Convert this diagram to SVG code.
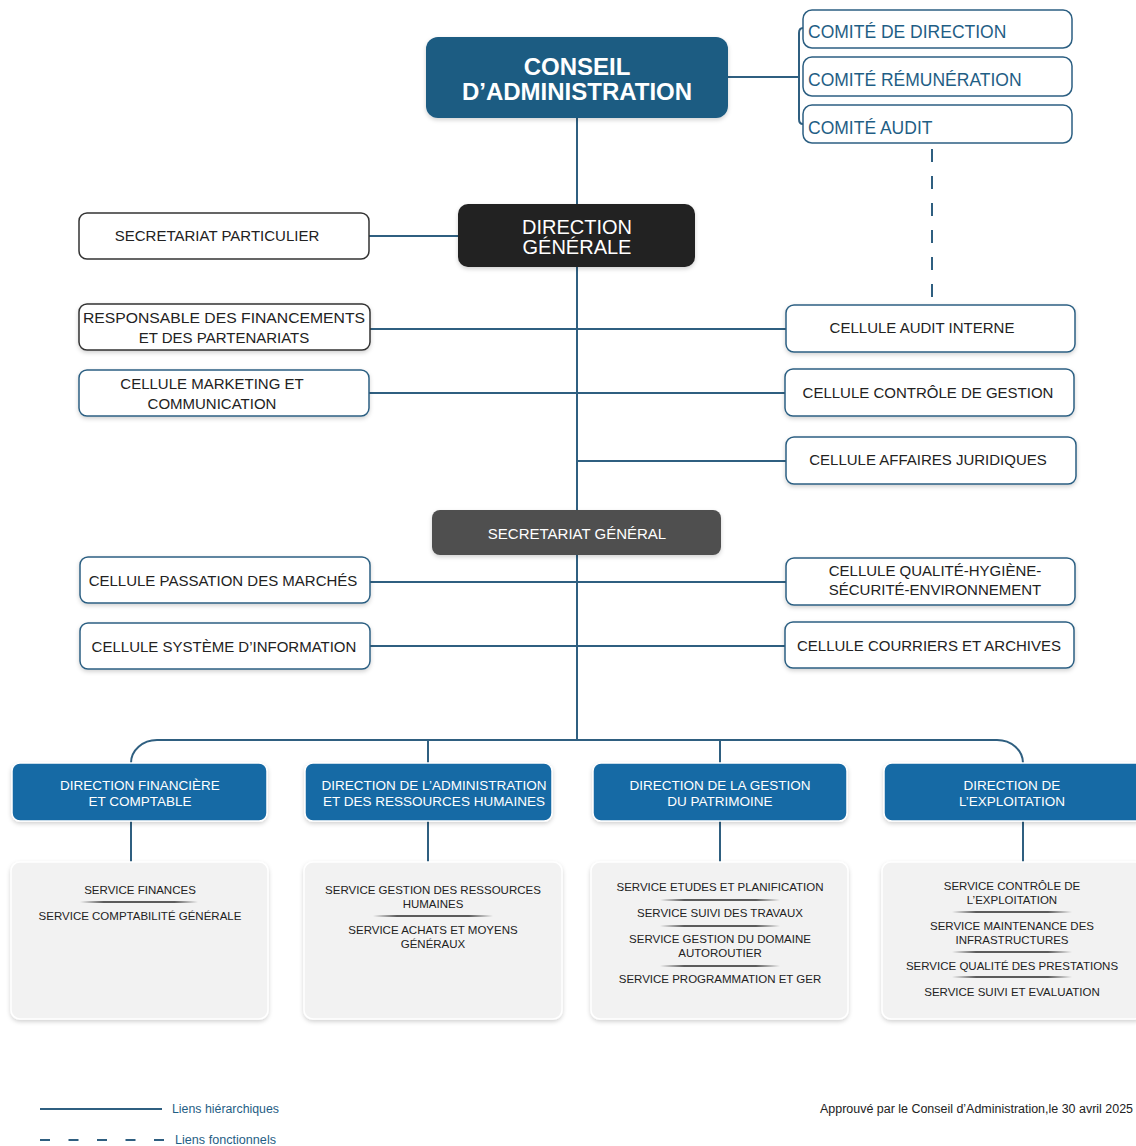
<svg xmlns="http://www.w3.org/2000/svg" width="1136" height="1146" viewBox="0 0 1136 1146">
<defs>
<filter id="sh" x="-10%" y="-20%" width="120%" height="150%">
<feDropShadow dx="0" dy="2" stdDeviation="2" flood-color="#000" flood-opacity="0.18"/>
</filter>
<linearGradient id="sep" x1="0" x2="1" y1="0" y2="0">
<stop offset="0" stop-color="#222" stop-opacity="0"/>
<stop offset="0.2" stop-color="#222" stop-opacity="0.9"/>
<stop offset="0.8" stop-color="#222" stop-opacity="0.9"/>
<stop offset="1" stop-color="#222" stop-opacity="0"/>
</linearGradient>
<style>
.t{font-family:"Liberation Sans",Arial,sans-serif;text-anchor:middle;fill:#222}
.w{fill:#fff}
.cm{font-family:"Liberation Sans",Arial,sans-serif;font-size:17.5px;fill:#1f5e85}
.box{fill:#fff;stroke:#2c5f82;stroke-width:1.5}
.boxd{fill:#fff;stroke:#333;stroke-width:1.5}
.dir{fill:#176aa5;stroke:#fff;stroke-width:1.5}
.svc{fill:#f2f2f2;stroke:#fff;stroke-width:1.5}
.c15{font-size:15px}
.c13{font-size:13.5px}
.c11{font-size:11.5px}
.ln{fill:none;stroke:#2f5f80;stroke-width:2}
.ds{fill:none;stroke:#2f5f80;stroke-width:2;stroke-dasharray:13 14}
.sp{fill:url(#sep)}
.lg{font-family:"Liberation Sans",Arial,sans-serif;font-size:12.3px}
</style>
</defs>
<rect width="1136" height="1146" fill="#fff"/>

<g id="connectors">
<path class="ln" d="M577 118V204M577 267V510M577 555V740"/>
<path class="ln" d="M728 77H799M803 28Q799 28 799 33V119Q799 124 803 124"/>
<path class="ds" d="M932 149V298"/>
<path class="ln" d="M369 236H458"/>
<path class="ln" d="M370 329H786"/>
<path class="ln" d="M369 393H785"/>
<path class="ln" d="M577 461H786"/>
<path class="ln" d="M370 582H786"/>
<path class="ln" d="M370 646H785"/>
<path class="ln" d="M131 763A26 23 0 0 1 157 740H997A26 23 0 0 1 1023 763"/>
<path class="ln" d="M428 740V763M720 740V763"/>
<path class="ln" d="M131 821V862M428 821V862M720 821V862M1023 821V862"/>
</g>

<g id="conseil">
<rect x="426" y="37" width="302" height="81" rx="12" fill="#1d5b82" filter="url(#sh)"/>
<text class="t w" x="577" y="75" font-size="24" font-weight="bold">CONSEIL</text>
<text class="t w" x="577" y="100" font-size="24" font-weight="bold">D’ADMINISTRATION</text>
</g>
<g id="comite-direction">
<rect class="box" x="803" y="10" width="269" height="38" rx="9"/>
<text class="cm" x="808" y="38">COMITÉ DE DIRECTION</text>
</g>
<g id="comite-remuneration">
<rect class="box" x="803" y="57" width="269" height="39" rx="9"/>
<text class="cm" x="808" y="86">COMITÉ RÉMUNÉRATION</text>
</g>
<g id="comite-audit">
<rect class="box" x="803" y="105" width="269" height="38" rx="9"/>
<text class="cm" x="808" y="134">COMITÉ AUDIT</text>
</g>

<g id="direction-generale">
<rect x="458" y="204" width="237" height="63" rx="10" fill="#222" filter="url(#sh)"/>
<text class="t w" x="577" y="234" font-size="20">DIRECTION</text>
<text class="t w" x="577" y="254" font-size="20">GÉNÉRALE</text>
</g>
<g id="secretariat-particulier">
<rect class="boxd" x="79" y="213" width="290" height="46" rx="8"/>
<text class="t c15" x="217" y="241">SECRETARIAT PARTICULIER</text>
</g>
<g id="responsable-financements">
<rect class="boxd" x="79" y="304" width="291" height="46" rx="8" filter="url(#sh)"/>
<text class="t c15" x="224" y="323" textLength="282" lengthAdjust="spacingAndGlyphs">RESPONSABLE DES FINANCEMENTS</text>
<text class="t c15" x="224" y="343">ET DES PARTENARIATS</text>
</g>
<g id="cellule-marketing">
<rect class="box" x="79" y="370" width="290" height="46" rx="8" filter="url(#sh)"/>
<text class="t c15" x="212" y="389">CELLULE MARKETING ET</text>
<text class="t c15" x="212" y="409">COMMUNICATION</text>
</g>
<g id="cellule-audit-interne">
<rect class="box" x="786" y="305" width="289" height="47" rx="8" filter="url(#sh)"/>
<text class="t c15" x="922" y="333">CELLULE AUDIT INTERNE</text>
</g>
<g id="cellule-controle-gestion">
<rect class="box" x="785" y="369" width="289" height="47" rx="8" filter="url(#sh)"/>
<text class="t c15" x="928" y="398">CELLULE CONTRÔLE DE GESTION</text>
</g>
<g id="cellule-affaires-juridiques">
<rect class="box" x="786" y="437" width="290" height="47" rx="8" filter="url(#sh)"/>
<text class="t c15" x="928" y="465">CELLULE AFFAIRES JURIDIQUES</text>
</g>

<g id="secretariat-general">
<rect x="432" y="510" width="289" height="45" rx="8" fill="#4f4f4f" filter="url(#sh)"/>
<text class="t w c15" x="577" y="539">SECRETARIAT GÉNÉRAL</text>
</g>
<g id="cellule-passation">
<rect class="box" x="80" y="557" width="290" height="46" rx="8" filter="url(#sh)"/>
<text class="t c15" x="223" y="586">CELLULE PASSATION DES MARCHÉS</text>
</g>
<g id="cellule-systeme">
<rect class="box" x="80" y="623" width="290" height="46" rx="8" filter="url(#sh)"/>
<text class="t c15" x="224" y="652">CELLULE SYSTÈME D’INFORMATION</text>
</g>
<g id="cellule-qhse">
<rect class="box" x="786" y="558" width="289" height="47" rx="8" filter="url(#sh)"/>
<text class="t c15" x="935" y="576">CELLULE QUALITÉ-HYGIÈNE-</text>
<text class="t c15" x="935" y="595">SÉCURITÉ-ENVIRONNEMENT</text>
</g>
<g id="cellule-courriers">
<rect class="box" x="785" y="622" width="289" height="46" rx="8" filter="url(#sh)"/>
<text class="t c15" x="929" y="651">CELLULE COURRIERS ET ARCHIVES</text>
</g>

<g id="dir-financiere">
<rect class="dir" x="12" y="763" width="255" height="58" rx="8" filter="url(#sh)"/>
<text class="t w c13" x="140" y="790">DIRECTION FINANCIÈRE</text>
<text class="t w c13" x="140" y="806">ET COMPTABLE</text>
</g>
<g id="dir-administration">
<rect class="dir" x="305" y="763" width="247" height="58" rx="8" filter="url(#sh)"/>
<text class="t w c13" x="434" y="790">DIRECTION DE L’ADMINISTRATION</text>
<text class="t w c13" x="434" y="806">ET DES RESSOURCES HUMAINES</text>
</g>
<g id="dir-patrimoine">
<rect class="dir" x="593" y="763" width="254" height="58" rx="8" filter="url(#sh)"/>
<text class="t w c13" x="720" y="790">DIRECTION DE LA GESTION</text>
<text class="t w c13" x="720" y="806">DU PATRIMOINE</text>
</g>
<g id="dir-exploitation">
<rect class="dir" x="884" y="763" width="260" height="58" rx="8" filter="url(#sh)"/>
<text class="t w c13" x="1012" y="790">DIRECTION DE</text>
<text class="t w c13" x="1012" y="806">L’EXPLOITATION</text>
</g>

<g id="services-financiere">
<rect class="svc" x="11" y="862" width="257" height="157" rx="9" filter="url(#sh)"/>
<text class="t c11" x="140" y="894">SERVICE FINANCES</text>
<rect class="sp" x="80" y="901.2" width="118" height="1.6"/>
<text class="t c11" x="140" y="920">SERVICE COMPTABILITÉ GÉNÉRALE</text>
</g>
<g id="services-administration">
<rect class="svc" x="304" y="862" width="258" height="157" rx="9" filter="url(#sh)"/>
<text class="t c11" x="433" y="894">SERVICE GESTION DES RESSOURCES</text>
<text class="t c11" x="433" y="908">HUMAINES</text>
<rect class="sp" x="373" y="915.2" width="120" height="1.6"/>
<text class="t c11" x="433" y="934">SERVICE ACHATS ET MOYENS</text>
<text class="t c11" x="433" y="948">GÉNÉRAUX</text>
</g>
<g id="services-patrimoine">
<rect class="svc" x="591" y="862" width="257" height="157" rx="9" filter="url(#sh)"/>
<text class="t c11" x="720" y="891">SERVICE ETUDES ET PLANIFICATION</text>
<rect class="sp" x="660" y="899.2" width="120" height="1.6"/>
<text class="t c11" x="720" y="917">SERVICE SUIVI DES TRAVAUX</text>
<rect class="sp" x="660" y="925.2" width="120" height="1.6"/>
<text class="t c11" x="720" y="943">SERVICE GESTION DU DOMAINE</text>
<text class="t c11" x="720" y="957">AUTOROUTIER</text>
<rect class="sp" x="660" y="965.2" width="120" height="1.6"/>
<text class="t c11" x="720" y="983">SERVICE PROGRAMMATION ET GER</text>
</g>
<g id="services-exploitation">
<rect class="svc" x="882" y="862" width="262" height="157" rx="9" filter="url(#sh)"/>
<text class="t c11" x="1012" y="890">SERVICE CONTRÔLE DE</text>
<text class="t c11" x="1012" y="904">L’EXPLOITATION</text>
<rect class="sp" x="952" y="911.2" width="120" height="1.6"/>
<text class="t c11" x="1012" y="930">SERVICE MAINTENANCE DES</text>
<text class="t c11" x="1012" y="944">INFRASTRUCTURES</text>
<rect class="sp" x="952" y="951.2" width="120" height="1.6"/>
<text class="t c11" x="1012" y="970">SERVICE QUALITÉ DES PRESTATIONS</text>
<rect class="sp" x="952" y="976.2" width="120" height="1.6"/>
<text class="t c11" x="1012" y="996">SERVICE SUIVI ET EVALUATION</text>
</g>

<g id="legend">
<line class="ln" x1="40" y1="1109" x2="162" y2="1109"/>
<text class="lg" x="172" y="1113" fill="#1f5e85" textLength="107" lengthAdjust="spacingAndGlyphs">Liens hiérarchiques</text>
<line x1="40" y1="1140" x2="165" y2="1140" stroke="#2f5f80" stroke-width="2" stroke-dasharray="10 18.5"/>
<text class="lg" x="175" y="1144" fill="#1f5e85" textLength="101" lengthAdjust="spacingAndGlyphs">Liens fonctionnels</text>
<text class="lg" x="1133" y="1113" text-anchor="end" fill="#222" textLength="313" lengthAdjust="spacingAndGlyphs">Approuvé par le Conseil d’Administration,le 30 avril 2025</text>
</g>
</svg>
